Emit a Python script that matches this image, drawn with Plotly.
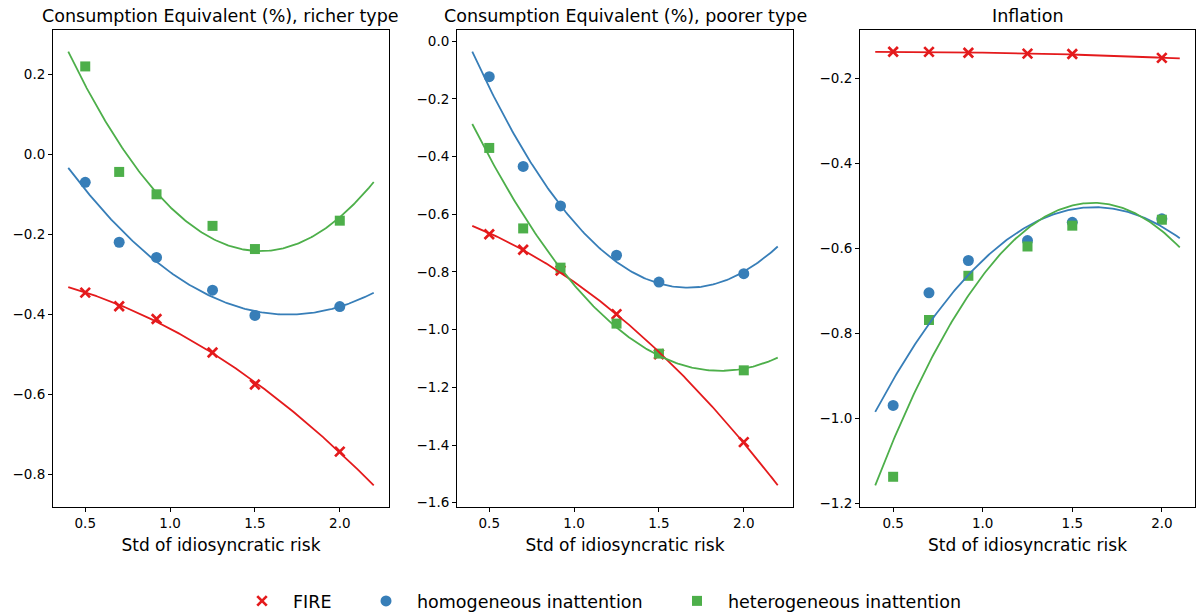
import numpy as np
import plotly.graph_objects as go

# ---------------- data ----------------
risk_std = [0.5, 0.7, 0.92, 1.25, 1.5, 2.0]

richer_fire = [-0.346, -0.380, -0.412, -0.496, -0.576, -0.744]
richer_homog = [-0.070, -0.220, -0.258, -0.340, -0.403, -0.381]
richer_heter = [0.220, -0.044, -0.100, -0.179, -0.237, -0.166]

poorer_fire = [-0.669, -0.723, -0.795, -0.946, -1.085, -1.390]
poorer_homog = [-0.123, -0.434, -0.571, -0.742, -0.835, -0.806]
poorer_heter = [-0.370, -0.649, -0.785, -0.979, -1.083, -1.141]

infl_fire = [-0.1365, -0.137, -0.139, -0.141, -0.142, -0.151]
infl_homog = [-0.969, -0.704, -0.628, -0.581, -0.538, -0.530]
infl_heter = [-1.137, -0.768, -0.664, -0.595, -0.546, -0.532]

panel_titles = ["Consumption Equivalent (%), richer type",
                "Consumption Equivalent (%), poorer type",
                "Inflation"]
x_label = "Std of idiosyncratic risk"
series_names = ["FIRE", "homogeneous inattention", "heterogeneous inattention"]

x_ticks = [0.5, 1.0, 1.5, 2.0]
y_ticks = [
    [0.2, 0.0, -0.2, -0.4, -0.6, -0.8],
    [0.0, -0.2, -0.4, -0.6, -0.8, -1.0, -1.2, -1.4, -1.6],
    [-0.2, -0.4, -0.6, -0.8, -1.0, -1.2],
]
fit_x_span = [(0.4, 2.2), (0.4, 2.2), (0.4, 2.1)]

panels = [
    [richer_fire, richer_homog, richer_heter],
    [poorer_fire, poorer_homog, poorer_heter],
    [infl_fire, infl_homog, infl_heter],
]

# ---------------- styling ----------------
W, H = 1196, 612
colors = ["#e41a1c", "#377eb8", "#4daf4a"]
symbols = ["x-thin", "circle", "square"]
sizes = [9.5, 11, 10]
FONT = "DejaVu Sans"

px_x = [(53, 389), (457, 793), (860, 1195)]
py_top, py_bot = 30, 507


def fmt(v):
    s = f"{v:.1f}"
    return s.replace("-", "\u2212")


fig = go.Figure()
layout_axes = {}
annotations = []

for i, series in enumerate(panels):
    ax = "" if i == 0 else str(i + 1)
    xa, ya = "x" + ax, "y" + ax
    x0, x1 = fit_x_span[i]
    xs = np.linspace(x0, x1, 200)
    all_y = []
    curves = []
    for s in series:
        # quadratic least-squares fit of each series, as in the reference
        coef = np.polyfit(risk_std, s, 2)
        ys = np.polyval(coef, xs)
        curves.append(ys)
        all_y.extend(list(ys))
        all_y.extend(s)
    # scatter markers first
    for k, s in enumerate(series):
        mk = dict(symbol=symbols[k], size=sizes[k], color=colors[k])
        if symbols[k] == "x-thin":
            mk["line"] = dict(width=2.7, color=colors[k])
        else:
            mk["line"] = dict(width=0)
        fig.add_trace(go.Scatter(
            x=risk_std, y=s, mode="markers", marker=mk,
            name=series_names[k], xaxis=xa, yaxis=ya,
            showlegend=(i == 0),
            legend=("legend" if k == 0 else f"legend{k + 1}"),
        ))
    for k, ys in enumerate(curves):
        fig.add_trace(go.Scatter(
            x=xs, y=ys, mode="lines", line=dict(color=colors[k], width=1.8),
            xaxis=xa, yaxis=ya, showlegend=False, hoverinfo="skip",
        ))
    # matplotlib-like autoscale with 5% margins
    xr = [x0 - 0.05 * (x1 - x0), x1 + 0.05 * (x1 - x0)]
    ymin, ymax = min(all_y), max(all_y)
    yr = [ymin - 0.05 * (ymax - ymin), ymax + 0.05 * (ymax - ymin)]

    common = dict(showline=True, mirror=True, linecolor="black", linewidth=1,
                  ticks="outside", ticklen=4, tickwidth=1, tickcolor="black",
                  showgrid=False, zeroline=False,
                  tickfont=dict(family=FONT, size=13.5, color="black"))
    layout_axes["xaxis" + ax] = dict(
        domain=[px_x[i][0] / W, px_x[i][1] / W], range=xr, anchor=ya,
        tickvals=x_ticks, ticktext=[fmt(v) for v in x_ticks],
        title=dict(text=x_label, font=dict(family=FONT, size=17, color="black"), standoff=8),
        **common)
    layout_axes["yaxis" + ax] = dict(
        domain=[1 - py_bot / H, 1 - py_top / H], range=yr, anchor=xa,
        tickvals=y_ticks[i], ticktext=[fmt(v) for v in y_ticks[i]],
        **common)
    annotations.append(dict(
        text=panel_titles[i], xref="paper", yref="paper",
        x=(px_x[i][0] + px_x[i][1]) / 2 / W, y=1 - 16 / H,
        xanchor="center", yanchor="middle", showarrow=False,
        font=dict(family=FONT, size=17.5, color="black")))

leg_common = dict(orientation="h", yanchor="middle", y=1 - 601 / H, xanchor="left",
                  itemwidth=52, font=dict(family=FONT, size=17.5, color="black"),
                  bgcolor="rgba(0,0,0,0)", borderwidth=0)
fig.update_layout(
    width=W, height=H,
    margin=dict(l=0, r=0, t=0, b=0, autoexpand=False),
    paper_bgcolor="white", plot_bgcolor="white",
    font=dict(family=FONT, color="black"),
    annotations=annotations,
    legend=dict(x=231 / W, **leg_common),
    legend2=dict(x=355 / W, **leg_common),
    legend3=dict(x=666 / W, **leg_common),
    **layout_axes,
)

fig.write_html("out.html")
